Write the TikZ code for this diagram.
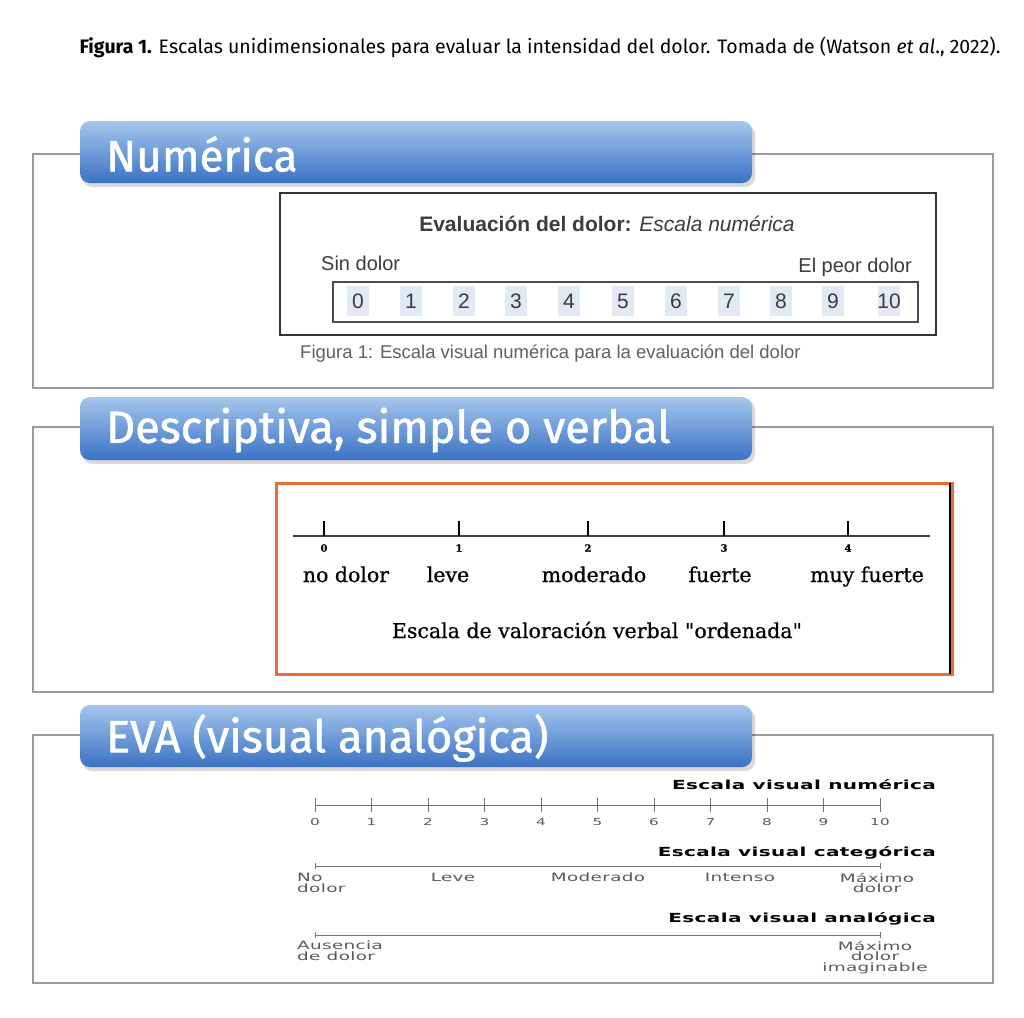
\documentclass[tikz,border=0pt]{standalone}
\usepackage{fontspec}
\setmainfont{Liberation Sans}
\newfontfamily\capfont{Fira Sans}
\newfontfamily\titfont[FakeBold=1.3]{Fira Sans}
\newfontfamily\serfont[FakeBold=0.6]{DejaVu Serif}
\newfontfamily\dvwide[FakeStretch=1.6,LetterSpace=3]{DejaVu Sans}
\definecolor{framegray}{RGB}{150,156,166}
\definecolor{bartop}{RGB}{165,198,236}
\definecolor{barbot}{RGB}{58,114,196}
\definecolor{orangeb}{RGB}{228,110,60}
\definecolor{textgray}{RGB}{60,60,60}
\definecolor{hl}{RGB}{224,233,244}
\begin{document}
\begin{tikzpicture}[x=1pt,y=-1pt,
  frame/.style={draw=framegray,line width=1.3pt},
  bar/.style={rounded corners=10pt,top color=bartop,bottom color=barbot,draw=none},
  shadowbar/.style={rounded corners=10pt,fill=black,opacity=0.15},
  bartext/.style={anchor=west,text=white,font=\titfont\fontsize{44}{48}\selectfont,inner sep=0pt},
  numtxt/.style={font=\fontsize{20}{22}\selectfont,text=textgray,inner sep=0pt},
  sertxt/.style={font=\serfont\fontsize{20.5}{22}\selectfont,inner sep=0pt,anchor=base},
  sernum/.style={font=\serfont\bfseries\fontsize{10}{11}\selectfont,inner sep=0pt},
  evahead/.style={font=\dvwide\bfseries\fontsize{12.5}{14}\selectfont,inner sep=0pt,anchor=base east},
  evalab/.style={font=\dvwide\fontsize{11.5}{10.5}\selectfont,text=black!65,inner sep=0pt},
  evanum/.style={font=\dvwide\fontsize{9.5}{10}\selectfont,text=black!65,inner sep=0pt},
  evaline/.style={draw=black!55,line width=1pt}
]
\useasboundingbox (0,0) rectangle (1024,1017);
\fill[white] (0,0) rectangle (1024,1017);

% caption
\node[anchor=base,inner sep=0pt,font=\capfont\fontsize{19.5}{22}\selectfont] (cap) at (540,53)
  {\textbf{Figura 1.} Escalas unidimensionales para evaluar la intensidad del dolor. Tomada de (Watson \textit{et al}., 2022).};

% ---------- Panel 1 ----------
\draw[frame] (33,154) rectangle (993,388);
\fill[shadowbar] (82,124) rectangle (755,187);
\path[bar] (80,121) rectangle (752,183);
\node[bartext] (t1) at (106,154) {Numérica};

\draw[line width=1.6pt,draw=black!80] (280,193) rectangle (936,335);
\node[numtxt,font=\bfseries\fontsize{21}{24}\selectfont] (ev) at (607,224)
  {Evaluación del dolor: \mdseries\itshape Escala numérica};
\node[numtxt,anchor=base west] (sd) at (321,270) {Sin dolor};
\node[numtxt,anchor=base east] (pd) at (912,272) {El peor dolor};
\draw[line width=1.2pt,draw=black!70] (333,282) rectangle (918,322);
\foreach \n/\x in {0/358,1/411,2/464,3/516,4/569,5/623,6/676,7/729,8/781,9/833,10/889}{
  \fill[hl] (\x-11,286) rectangle (\x+11,316);
  \node[numtxt,font=\fontsize{21}{22}\selectfont] (n\n) at (\x,301) {\n};
}
\node[numtxt,anchor=base west,font=\fontsize{18.5}{20}\selectfont,text=black!62] (fig) at (300,358)
  {Figura 1: Escala visual numérica para la evaluación del dolor};

% ---------- Panel 2 ----------
\draw[frame] (33,427) rectangle (993,692);
\fill[shadowbar] (82,400) rectangle (755,464);
\path[bar] (80,397) rectangle (752,460);
\node[bartext,font=\titfont\fontsize{45}{48}\selectfont] (t2) at (106,430) {Descriptiva, simple o verbal};

\draw[draw=orangeb,line width=3pt] (276,483) rectangle (952,674);
\draw[line width=2.5pt] (950,483) -- (950,674);
\coordinate (vl) at (293,536);
\coordinate (vr) at (930,536);
\draw[line width=2pt,draw=black!75] (vl) -- (vr);
\foreach \i/\x in {0/324,1/459,2/588,3/724,4/848}{
  \draw[line width=1.3pt] (\x,521) -- (\x,536);
  \node[sernum] (v\i) at (\x,548) {\i};
}
\node[sertxt] (l0) at (346,582) {no dolor};
\node[sertxt] (l1) at (448,582) {leve};
\node[sertxt] (l2) at (594,582) {moderado};
\node[sertxt] (l3) at (720,582) {fuerte};
\node[sertxt] (l4) at (867,582) {muy fuerte};
\node[sertxt] (vcap) at (597,638) {Escala de valoración verbal "ordenada"};

% ---------- Panel 3 ----------
\draw[frame] (33,735) rectangle (993,983);
\fill[shadowbar] (82,708) rectangle (755,771);
\path[bar] (80,705) rectangle (752,767);
\node[bartext,font=\titfont\fontsize{45}{48}\selectfont] (t3) at (106,738) {EVA (visual analógica)};

\node[evahead] (h1) at (936,789) {Escala visual numérica};
\coordinate (a0) at (315,805);
\coordinate (a1) at (880,805);
\draw[evaline] (a0) -- (a1);
\foreach \i in {0,...,10}{
  \pgfmathsetmacro{\xx}{315+56.5*\i}
  \draw[evaline] (\xx,798) -- (\xx,812);
  \node[evanum] (e\i) at (\xx,822) {\i};
}

\node[evahead] (h2) at (936,856) {Escala visual categórica};
\coordinate (b0) at (315,866);
\coordinate (b1) at (880,866);
\draw[evaline] (b0) -- (b1);
\draw[evaline] (315,863) -- (315,869);
\draw[evaline] (880,863) -- (880,869);
\node[evalab,anchor=north west,align=left] (c0) at (297,873) {No\\dolor};
\node[evalab,anchor=north] (c1) at (453,873) {Leve};
\node[evalab,anchor=north] (c2) at (598,873) {Moderado};
\node[evalab,anchor=north] (c3) at (740,873) {Intenso};
\node[evalab,anchor=north,align=center] (c4) at (877,873) {Máximo\\dolor};

\node[evahead] (h3) at (936,922) {Escala visual analógica};
\coordinate (d0) at (315,935);
\coordinate (d1) at (880,935);
\draw[evaline] (d0) -- (d1);
\draw[evaline] (315,932) -- (315,938);
\draw[evaline] (880,932) -- (880,938);
\node[evalab,anchor=north west,align=left] (g0) at (297,941) {Ausencia\\de dolor};
\node[evalab,anchor=north,align=center] (g1) at (875,941) {Máximo\\dolor\\imaginable};
\end{tikzpicture}
\end{document}
